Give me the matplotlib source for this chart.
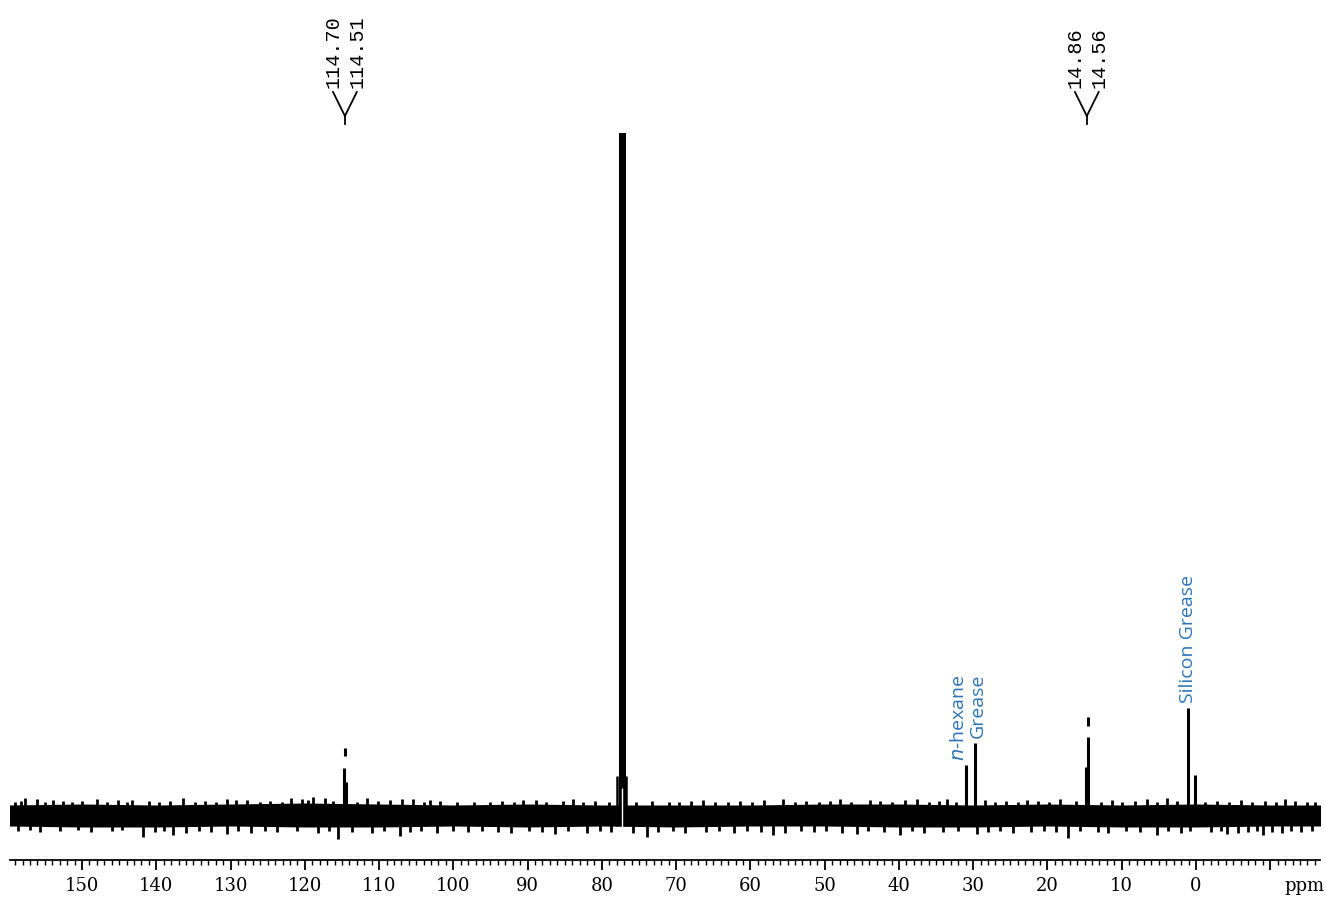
import numpy as np
import matplotlib
matplotlib.use("Agg")
import matplotlib.pyplot as plt
import matplotlib.transforms as mtransforms

# 13C NMR, intensities in arbitrary units (baseline = 0)
peak_ppm = [114.70, 114.51, 77.6, 77.3, 77.0, 31.0, 29.7, 14.86, 14.56, 1.1, 0.1]
peak_int = [44, 30, 1000, 1000, 1000, 47, 69, 45, 75, 104, 37]

# base of the solvent peak (CDCl3)
base_ppm = [77.9, 76.7]
base_int = [36, 36]

# peak-pick marks drawn above the picked peaks
mark_ppm = [114.6, 14.56]
mark_lo = [56, 86]
mark_hi = [64, 95]

# baseline noise: core band envelope, read every 10 ppm
env_ppm = [160, 150, 140, 130, 120, 110, 100, 90, 80, 70, 60, 50, 40, 30, 20, 10, 0, -10, -17]
env_top = [7, 8, 7, 8, 9, 8, 7, 8, 7, 7, 7, 8, 8, 7, 8, 7, 8, 7, 7]
env_bot = [-14, -15, -15, -14, -15, -15, -14, -15, -14, -15, -14, -14, -15, -15, -14, -15, -15, -14, -14]

# biggest noise spikes
up_ppm = [157.7, 156.1, 153.9, 148.0, 143.3, 136.4, 130.5, 127.8, 121.8, 120.4, 118.9, 117.3,
          111.6, 106.9, 105.4, 103.1, 90.6, 83.9, 66.4, 55.6, 47.9, 43.9, 37.6, 33.5, 22.8,
          18.3, 6.6, 3.9, -12.0]
up_int = [14, 13, 12, 13, 12, 14, 13, 12, 14, 13, 15, 14, 14, 13, 13, 12, 12, 13, 12, 13, 13,
          12, 13, 13, 12, 13, 13, 14, 13]
dn_ppm = [141.8, 137.7, 130.5, 115.5, 107.2, 86.3, 73.9, 57.0, 45.6, 39.9, 29.5, 17.2, 5.3,
          -4.2, -9.0]
dn_int = [-25, -23, -22, -27, -24, -22, -25, -23, -22, -23, -22, -26, -23, -22, -23]

# smaller noise spikes
up2_ppm = [159.0, 158.2, 155.0, 152.6, 151.3, 150.0, 146.7, 145.2, 144.0, 141.0, 139.6, 138.1,
           134.8, 133.5, 132.0, 129.3, 126.0, 124.7, 123.1, 119.6, 116.2, 113.0, 110.2, 108.5,
           104.0, 101.8, 99.5, 97.2, 95.0, 93.4, 91.8, 88.9, 87.5, 85.2, 82.6, 80.9, 79.0,
           75.4, 73.2, 71.0, 69.6, 68.0, 64.8, 63.0, 61.4, 59.8, 58.2, 54.0, 52.5, 50.8, 49.3,
           46.4, 42.5, 41.0, 39.2, 36.0, 34.6, 32.3, 28.4, 27.0, 25.6, 24.0, 21.3, 19.8, 16.2,
           12.8, 11.3, 9.9, 8.2, 5.2, 2.6, -1.2, -2.8, -4.5, -6.0, -7.6, -9.3, -10.8, -13.4,
           -14.9, -16.0]
up2_int = [10, 11, 10, 11, 10, 11, 10, 12, 10, 11, 10, 11, 10, 11, 10, 12, 10, 11, 10, 12, 11,
           10, 11, 12, 10, 11, 10, 10, 10, 11, 10, 12, 10, 11, 10, 11, 10, 10, 11, 10, 10, 11,
           10, 10, 11, 10, 12, 10, 11, 10, 11, 10, 11, 10, 12, 10, 11, 10, 12, 10, 11, 10, 11,
           10, 11, 10, 12, 10, 11, 10, 11, 10, 11, 10, 12, 10, 11, 10, 11, 10, 10]
dn2_ppm = [158.6, 157.0, 155.6, 153.0, 150.6, 148.8, 146.0, 144.6, 140.2, 139.0, 136.0, 134.2,
           132.6, 129.0, 127.2, 125.4, 123.8, 121.0, 118.2, 116.8, 113.6, 111.0, 109.4, 105.8,
           104.4, 102.2, 100.0, 98.0, 96.2, 94.0, 92.2, 89.8, 88.0, 84.6, 82.0, 80.2, 78.8,
           75.8, 72.4, 70.4, 68.8, 66.0, 64.2, 62.2, 60.4, 58.6, 55.4, 53.2, 51.4, 49.8, 47.6,
           44.2, 42.0, 38.2, 36.6, 34.0, 32.0, 28.0, 26.4, 24.6, 22.2, 20.4, 18.8, 15.6, 13.2,
           11.8, 9.4, 7.6, 3.8, 2.0, 0.8, -2.0, -3.4, -5.6, -7.0, -8.2, -10.2, -11.6, -12.8,
           -14.2, -15.6]
dn2_int = [-19, -18, -20, -19, -18, -20, -19, -18, -20, -19, -21, -19, -20, -19, -21, -19, -20,
           -19, -21, -19, -20, -21, -19, -20, -19, -21, -19, -20, -19, -20, -21, -19, -20, -19,
           -21, -19, -20, -21, -20, -19, -21, -20, -19, -21, -19, -20, -21, -19, -20, -19, -21,
           -19, -20, -19, -21, -20, -19, -20, -19, -21, -20, -19, -20, -19, -20, -21, -19, -20,
           -19, -21, -19, -20, -19, -21, -20, -19, -20, -21, -19, -20, -19]

# peak labels on top
top_groups = [["114.70", "114.51"], ["14.86", "14.56"]]
top_vertex = [114.6, 14.7]

# impurity labels (blue)
imp_text = ["$\\it{n}$-hexane", "Grease", "Silicon Grease"]
imp_ppm = [31.9, 29.4, 1.1]
imp_int = [51, 74, 109]

tick_major = list(range(150, -20, -10))
tick_lab = [str(t) if t >= 0 else "" for t in tick_major]

fig = plt.figure(figsize=(13.25, 9), dpi=100)
ax = fig.add_axes([10 / 1325, 40 / 900, 1310 / 1325, 727 / 900])

ax.fill_between(env_ppm, env_bot, env_top, color="black", lw=0)
ax.vlines(up_ppm, 0, up_int, color="black", lw=2.0)
ax.vlines(dn_ppm, dn_int, 0, color="black", lw=2.0)
ax.vlines(up2_ppm, 0, up2_int, color="black", lw=2.0)
ax.vlines(dn2_ppm, dn2_int, 0, color="black", lw=2.0)
ax.vlines(base_ppm, -14, base_int, color="black", lw=1.8)
ax.vlines(peak_ppm, 0, peak_int, color="black", lw=2.2)
ax.vlines([77.3], -16, 24, color="white", lw=1.0)
ax.vlines(mark_ppm, mark_lo, mark_hi, color="black", lw=2.2)

ax.set_xlim(159.7, -16.7)
ax.set_ylim(-48, 679)

for s in ["top", "left", "right"]:
    ax.spines[s].set_visible(False)
ax.spines["bottom"].set_linewidth(1.3)
ax.set_yticks([])
ax.set_xticks(tick_major)
ax.set_xticklabels(tick_lab, family="DejaVu Serif", fontsize=13)
ax.set_xticks(np.arange(159, -17, -1), minor=True)
ax.tick_params(axis="x", which="major", length=7, width=1.3, pad=5)
ax.tick_params(axis="x", which="minor", length=3.5, width=1.0)
ax.annotate("ppm", xy=(-14.6, 0), xycoords=("data", "axes fraction"), xytext=(0, -12),
            textcoords="offset points", ha="center", va="top",
            family="DejaVu Serif", fontsize=13)

# top labels with bracket
tr = mtransforms.blended_transform_factory(ax.transData, fig.transFigure)
for labels, vx in zip(top_groups, top_vertex):
    offs = [1.6, -1.6]
    for lab, o in zip(labels, offs):
        fig.text(vx + o, 1 - 88 / 900, lab, transform=tr, rotation=90, ha="center", va="bottom",
                 family="Liberation Mono", fontsize=14.5)
        ax.plot([vx + o, vx], [1 - 92 / 900, 1 - 116 / 900], transform=tr, color="black",
                lw=1.3, clip_on=False)
    ax.plot([vx, vx], [1 - 116 / 900, 1 - 124 / 900], transform=tr, color="black",
            lw=1.3, clip_on=False)

for t, x, y in zip(imp_text, imp_ppm, imp_int):
    ax.text(x, y, t, rotation=90, ha="center", va="bottom", color="#2E75B6",
            family="Open Sans", fontsize=14)

fig.savefig("out.png", dpi=100)
